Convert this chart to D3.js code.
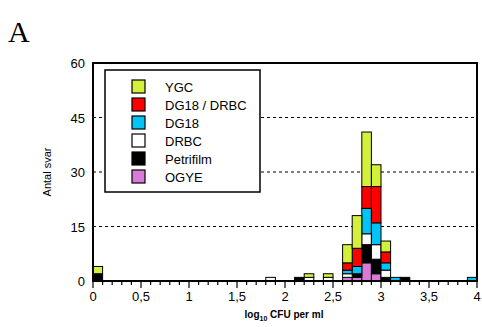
<!DOCTYPE html>
<html>
<head>
<meta charset="utf-8">
<script src="https://cdn.jsdelivr.net/npm/d3@7"></script>
<style>
  html, body { margin: 0; padding: 0; background: #fff; }
  svg { display: block; }
</style>
</head>
<body>
<svg id="chart" width="482" height="327"></svg>
<script>
// Histogram bins (lower edge, log10 CFU per ml), bin width 0.1
const binStarts = [0.0, 1.8, 2.1, 2.2, 2.4, 2.6, 2.7, 2.8, 2.9, 3.0, 3.1, 3.2, 3.9];
const binWidth = 0.1;

// Counts per medium for each bin (stacked bottom to top: OGYE ... YGC)
const ogye      = [0, 0, 0, 0, 0, 1, 1, 5, 2, 0, 0, 0, 0];
const petrifilm = [2, 0, 1, 0, 0, 0, 1, 5, 4, 1, 0, 1, 0];
const drbc      = [0, 1, 0, 1, 1, 1, 0, 3, 4, 2, 0, 0, 0];
const dg18      = [0, 0, 0, 0, 0, 1, 2, 7, 6, 2, 1, 0, 1];
const dg18drbc  = [0, 0, 0, 0, 0, 2, 5, 6, 10, 3, 0, 0, 0];
const ygc       = [2, 0, 0, 1, 1, 5, 9, 15, 6, 3, 0, 0, 0];

const seriesNames = ["OGYE", "Petrifilm", "DRBC", "DG18", "DG18 / DRBC", "YGC"];
const seriesValues = [ogye, petrifilm, drbc, dg18, dg18drbc, ygc];
const seriesColors = ["#da7ad8", "#000000", "#ffffff", "#00c4f6", "#ff0000", "#d4f03a"];

const xTicks = [0, 0.5, 1, 1.5, 2, 2.5, 3, 3.5, 4];
const yTicks = [0, 15, 30, 45, 60];
const gridValues = [15, 30, 45];

const svg = d3.select("#chart");
const x = d3.scaleLinear().domain([0, 4]).range([93, 477]);
const y = d3.scaleLinear().domain([0, 60]).range([281, 63]);

// Panel letter
svg.append("text")
  .attr("x", 8).attr("y", 42)
  .attr("font-family", "'Liberation Serif', 'Times New Roman', serif")
  .attr("font-size", 30)
  .text("A");

// Dashed gridlines
svg.append("g").selectAll("line").data(gridValues).join("line")
  .attr("x1", x(0)).attr("x2", x(4))
  .attr("y1", d => y(d)).attr("y2", d => y(d))
  .attr("stroke", "#000").attr("stroke-width", 1)
  .attr("stroke-dasharray", "3,3");

// Stacked bars
const rows = binStarts.map((b, i) => {
  const r = { bin: b };
  seriesNames.forEach((n, s) => r[n] = seriesValues[s][i]);
  return r;
});
const stacked = d3.stack().keys(seriesNames)(rows);

const barG = svg.append("g");
stacked.forEach((layer, s) => {
  barG.append("g").selectAll("rect")
    .data(layer.filter(d => d[1] - d[0] > 0))
    .join("rect")
    .attr("x", d => x(d.data.bin))
    .attr("width", d => x(d.data.bin + binWidth) - x(d.data.bin))
    .attr("y", d => y(d[1]))
    .attr("height", d => y(d[0]) - y(d[1]))
    .attr("fill", seriesColors[s])
    .attr("stroke", "#000")
    .attr("stroke-width", 1);
});

// Frame
svg.append("rect")
  .attr("x", x(0)).attr("y", y(60))
  .attr("width", x(4) - x(0)).attr("height", y(0) - y(60))
  .attr("fill", "none").attr("stroke", "#000").attr("stroke-width", 2);

// X axis: minor ticks every 0.1, major every 0.5
const minorTicks = d3.range(0, 41).map(i => i / 10);
svg.append("g").selectAll("line").data(minorTicks).join("line")
  .attr("x1", d => x(d)).attr("x2", d => x(d))
  .attr("y1", y(0)).attr("y2", d => y(0) + (Math.round(d * 10) % 5 === 0 ? 7 : 4))
  .attr("stroke", "#000").attr("stroke-width", 1.2);

const fmt = d => String(d).replace(".", ",");
svg.append("g").selectAll("text").data(xTicks).join("text")
  .attr("x", d => x(d)).attr("y", 301)
  .attr("text-anchor", "middle")
  .attr("font-family", "'Liberation Sans', Arial, sans-serif")
  .attr("font-size", 13)
  .text(fmt);

// Y axis labels
svg.append("g").selectAll("text").data(yTicks).join("text")
  .attr("x", 85).attr("y", d => y(d) + 5)
  .attr("text-anchor", "end")
  .attr("font-family", "'Liberation Sans', Arial, sans-serif")
  .attr("font-size", 13)
  .text(d => d);

// Axis titles
const xt = svg.append("text")
  .attr("x", 284).attr("y", 318)
  .attr("text-anchor", "middle")
  .attr("font-family", "'Liberation Sans', Arial, sans-serif")
  .attr("font-size", 10).attr("font-weight", "bold");
xt.append("tspan").text("log");
xt.append("tspan").attr("font-size", 7).attr("dy", 3).text("10");
xt.append("tspan").attr("dy", -3).text(" CFU per ml");

svg.append("text")
  .attr("transform", "translate(51,172) rotate(-90)")
  .attr("text-anchor", "middle")
  .attr("font-family", "'Liberation Sans', Arial, sans-serif")
  .attr("font-size", 11)
  .text("Antal svar");

// Legend (top to bottom: YGC ... OGYE)
const legend = svg.append("g");
legend.append("rect")
  .attr("x", 105).attr("y", 70).attr("width", 155).attr("height", 122)
  .attr("fill", "#fff").attr("stroke", "#000").attr("stroke-width", 1.5);

const legendItems = seriesNames.map((n, i) => ({ name: n, color: seriesColors[i] })).reverse();
const li = legend.selectAll("g.item").data(legendItems).join("g")
  .attr("class", "item")
  .attr("transform", (d, i) => `translate(0, ${86.5 + i * 18})`);
li.append("rect")
  .attr("x", 132).attr("y", -6.5).attr("width", 13).attr("height", 13)
  .attr("fill", d => d.color).attr("stroke", "#000").attr("stroke-width", 1.2);
li.append("text")
  .attr("x", 165).attr("y", 5)
  .attr("font-family", "'Liberation Sans', Arial, sans-serif")
  .attr("font-size", 13)
  .text(d => d.name);
</script>
</body>
</html>
